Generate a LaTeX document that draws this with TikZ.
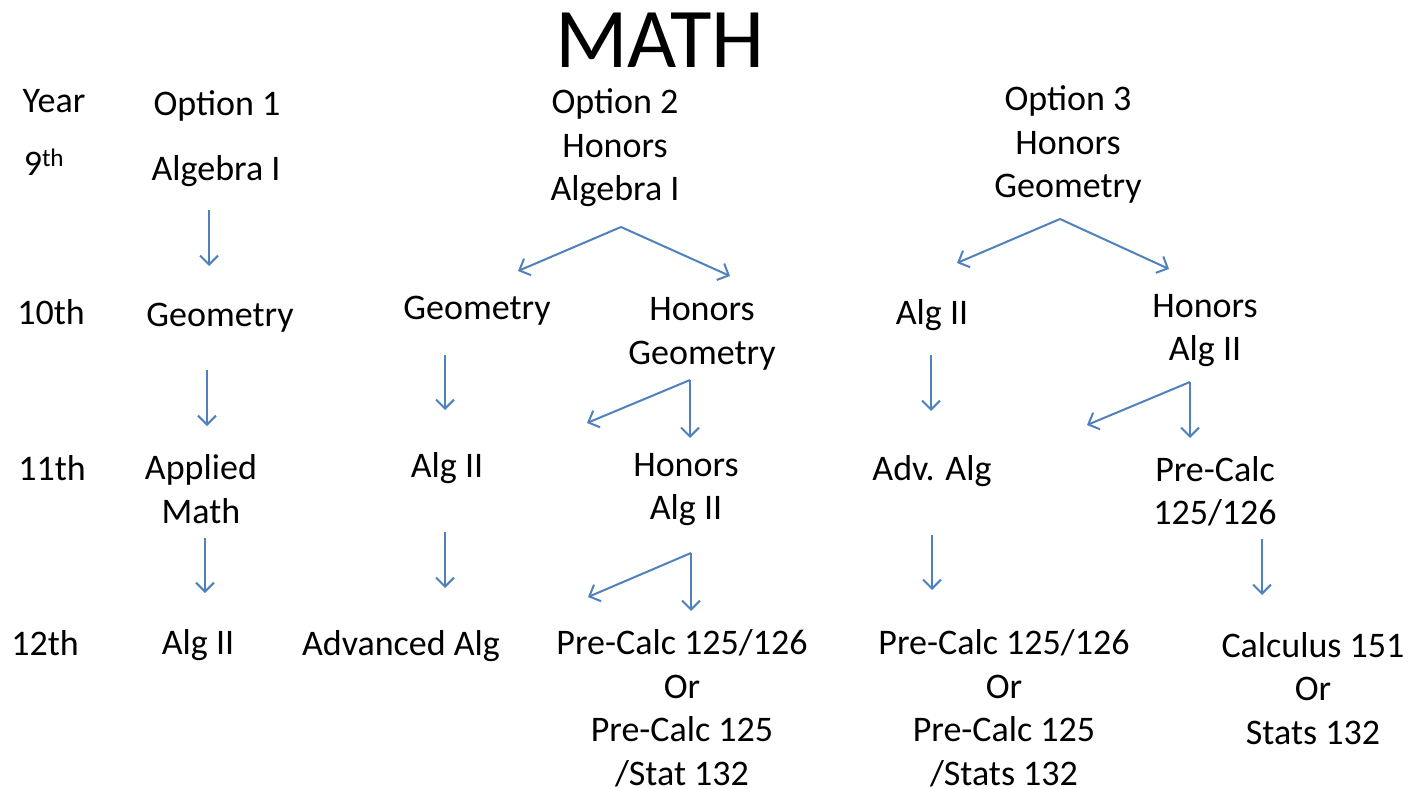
\documentclass[tikz,border=0pt]{standalone}
\usepackage{fontspec}
\setmainfont{Carlito}
\usetikzlibrary{arrows.meta}
\definecolor{arrowblue}{RGB}{79,129,189}
\begin{document}
\begin{tikzpicture}[x=1pt,y=-1pt,
  lbl/.style={inner sep=0pt,align=center,yshift=-2.5pt,font=\fontsize{36}{43.5}\selectfont},
  conn/.style={draw=arrowblue,line width=2pt,-{Straight Barb[length=9pt,width=18pt,line width=2pt]}}]
\useasboundingbox (0,0) rectangle (1421,789);
% title
\node[inner sep=0pt,font=\fontsize{85}{90}\selectfont] (title) at (660,40) {MATH};
% year column
\node[lbl] (year) at (54,99) {Year};
\node[lbl] (y9) at (44,160) {9\textsuperscript{th}};
\node[lbl] (y10) at (51,310) {10th};
\node[lbl] (y11) at (52,466) {11th};
\node[lbl] (y12) at (45,641) {12th};
% option 1
\node[lbl] (o1) at (217,103) {Option 1};
\node[lbl] (o1a) at (216,169) {Algebra I};
\node[lbl] (o1b) at (220,315) {Geometry};
\node[lbl] (o1c) at (201,486.5) {Applied\\Math};
\node[lbl] (o1d) at (198,643) {Alg II};
% option 2
\node[lbl] (o2) at (615,145.5) {Option 2\\Honors\\Algebra I};
\node[lbl] (o2g) at (477,308) {Geometry};
\node[lbl] (o2hg) at (702,331.5) {Honors\\Geometry};
\node[lbl] (o2a) at (447,466) {Alg II};
\node[lbl] (o2ha) at (686,487) {Honors\\Alg II};
\node[lbl] (o2aa) at (401,644) {Advanced Alg};
\node[lbl] (o2pc) at (682,706) {Pre-Calc 125/126\\Or\\Pre-Calc 125\\/Stat 132};
% option 3
\node[lbl] (o3) at (1068,142) {Option 3\\Honors\\Geometry};
\node[lbl] (o3a) at (932,313) {Alg II};
\node[lbl] (o3ha) at (1205,328) {Honors\\Alg II};
\node[lbl] (o3adv) at (932,469) {Adv. Alg};
\node[lbl] (o3pc) at (1215,489) {Pre-Calc\\125/126};
\node[lbl] (o3pc2) at (1004,706) {Pre-Calc 125/126\\Or\\Pre-Calc 125\\/Stats 132};
\node[lbl] (o3calc) at (1313,686) {Calculus 151\\Or\\Stats 132};
% connector coordinates
\coordinate (a1s) at (209,210); \coordinate (a1e) at (209,266);
\coordinate (a2s) at (207,370); \coordinate (a2e) at (207,426);
\coordinate (a3s) at (205,538); \coordinate (a3e) at (205,593);
\coordinate (b0) at (621,227); \coordinate (b0l) at (518,271); \coordinate (b0r) at (730,276);
\coordinate (b1s) at (445,355); \coordinate (b1e) at (445,410);
\coordinate (b2s) at (445,532); \coordinate (b2e) at (445,588);
\coordinate (c0) at (690,380); \coordinate (c0l) at (587,423); \coordinate (c0d) at (690,438);
\coordinate (d0) at (691,553); \coordinate (d0l) at (588,597); \coordinate (d0d) at (691,611);
\coordinate (e0) at (1060,219); \coordinate (e0l) at (957,263); \coordinate (e0r) at (1169,269);
\coordinate (f1s) at (931,355); \coordinate (f1e) at (931,411);
\coordinate (f2s) at (932,535); \coordinate (f2e) at (932,590);
\coordinate (g0) at (1190,382); \coordinate (g0l) at (1087,425); \coordinate (g0d) at (1190,438);
\coordinate (h1s) at (1262,539); \coordinate (h1e) at (1262,595);
% connectors
\draw[conn] (a1s) -- (a1e);
\draw[conn] (a2s) -- (a2e);
\draw[conn] (a3s) -- (a3e);
\draw[conn] (b0) -- (b0l);
\draw[conn] (b0) -- (b0r);
\draw[conn] (b1s) -- (b1e);
\draw[conn] (b2s) -- (b2e);
\draw[conn] (c0) -- (c0l);
\draw[conn] (c0) -- (c0d);
\draw[conn] (d0) -- (d0l);
\draw[conn] (d0) -- (d0d);
\draw[conn] (e0) -- (e0l);
\draw[conn] (e0) -- (e0r);
\draw[conn] (f1s) -- (f1e);
\draw[conn] (f2s) -- (f2e);
\draw[conn] (g0) -- (g0l);
\draw[conn] (g0) -- (g0d);
\draw[conn] (h1s) -- (h1e);
\end{tikzpicture}
\end{document}
